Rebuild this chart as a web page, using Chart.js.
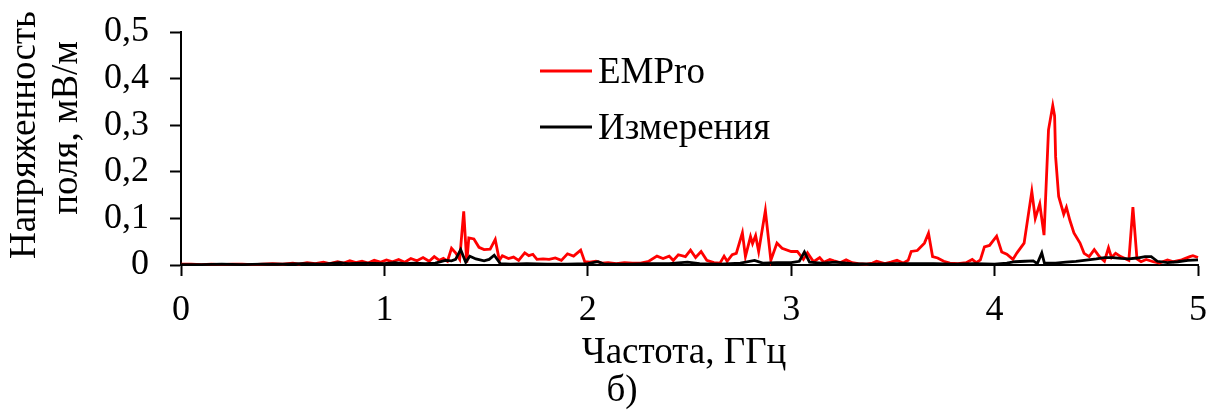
<!DOCTYPE html>
<html>
<head>
<meta charset="utf-8">
<script src="https://cdn.jsdelivr.net/npm/chart.js@4.4.1/dist/chart.umd.min.js"></script>
<style>
  html, body { margin: 0; padding: 0; background: #fff; }
  #wrap { width: 1208px; height: 412px; }
</style>
</head>
<body>
<div id="wrap"><canvas id="chart" width="1208" height="412"></canvas></div>
<script>
// Simulated field strength (EMPro), GHz / mV/m
const emproFreq = [
  0.00, 0.05, 0.10, 0.15, 0.20, 0.25, 0.30, 0.35, 0.40, 0.45, 0.50, 0.55, 0.58, 0.62, 0.66, 0.70, 0.73, 0.77,
  0.80, 0.83, 0.86, 0.89, 0.92, 0.95, 0.98, 1.01, 1.04, 1.07, 1.10, 1.13, 1.16, 1.19, 1.22, 1.245, 1.27, 1.29,
  1.31, 1.33, 1.35, 1.37, 1.39, 1.405, 1.415, 1.44, 1.465, 1.49, 1.52, 1.545, 1.565, 1.58, 1.61, 1.635, 1.66,
  1.69, 1.71, 1.73, 1.75, 1.78, 1.81, 1.84, 1.87, 1.90, 1.93, 1.965, 1.985, 2.01, 2.04, 2.07, 2.10, 2.14, 2.18,
  2.22, 2.26, 2.30, 2.34, 2.37, 2.40, 2.42, 2.445, 2.48, 2.505, 2.53, 2.557, 2.585, 2.62, 2.65, 2.67, 2.685,
  2.71, 2.73, 2.76, 2.775, 2.80, 2.81, 2.825, 2.84, 2.873, 2.90, 2.93, 2.955, 3.00, 3.03, 3.06, 3.08, 3.11,
  3.14, 3.16, 3.19, 3.21, 3.24, 3.27, 3.30, 3.33, 3.37, 3.40, 3.42, 3.46, 3.49, 3.52, 3.55, 3.575, 3.59, 3.62,
  3.655, 3.675, 3.695, 3.72, 3.75, 3.78, 3.82, 3.86, 3.89, 3.91, 3.93, 3.95, 3.975, 4.01, 4.035, 4.06, 4.09,
  4.11, 4.145, 4.183, 4.20, 4.222, 4.243, 4.265, 4.286, 4.295, 4.30, 4.315, 4.34, 4.353, 4.37, 4.39, 4.42,
  4.44, 4.465, 4.49, 4.515, 4.54, 4.56, 4.575, 4.595, 4.62, 4.66, 4.68, 4.70, 4.72, 4.745, 4.78, 4.81, 4.85,
  4.88, 4.92, 4.96, 4.975, 5.00
];
const emproValue = [
  0.002, 0.002, 0.001, 0.002, 0.001, 0.002, 0.002, 0.001, 0.002, 0.003, 0.002, 0.004, 0.002, 0.005, 0.003, 0.006, 0.003, 0.007,
  0.004, 0.009, 0.005, 0.008, 0.004, 0.010, 0.006, 0.011, 0.007, 0.012, 0.006, 0.014, 0.009, 0.016, 0.008, 0.018, 0.010, 0.014,
  0.008, 0.036, 0.026, 0.012, 0.115, 0.005, 0.058, 0.056, 0.038, 0.033, 0.034, 0.055, 0.010, 0.020, 0.014, 0.017, 0.010,
  0.026, 0.020, 0.023, 0.012, 0.013, 0.012, 0.015, 0.010, 0.024, 0.019, 0.032, 0.007, 0.006, 0.008, 0.004, 0.005, 0.003, 0.005,
  0.004, 0.004, 0.008, 0.019, 0.014, 0.019, 0.010, 0.022, 0.018, 0.032, 0.016, 0.029, 0.010, 0.005, 0.004, 0.019, 0.008,
  0.022, 0.025, 0.069, 0.018, 0.061, 0.046, 0.063, 0.029, 0.117, 0.010, 0.047, 0.036, 0.029, 0.029, 0.012, 0.026, 0.007,
  0.016, 0.006, 0.012, 0.009, 0.005, 0.011, 0.005, 0.003, 0.002, 0.004, 0.008, 0.003, 0.006, 0.010, 0.004, 0.010, 0.029, 0.031,
  0.047, 0.068, 0.018, 0.015, 0.008, 0.004, 0.003, 0.005, 0.012, 0.005, 0.011, 0.039, 0.042, 0.062, 0.028, 0.023, 0.012,
  0.026, 0.047, 0.158, 0.100, 0.131, 0.064, 0.290, 0.342, 0.320, 0.232, 0.147, 0.109, 0.124, 0.096, 0.069, 0.047,
  0.025, 0.018, 0.033, 0.018, 0.008, 0.037, 0.016, 0.025, 0.018, 0.010, 0.124, 0.013, 0.007, 0.012, 0.007, 0.004, 0.011,
  0.007, 0.011, 0.018, 0.020, 0.016
];

// Measured field strength, GHz / mV/m
const measFreq = [
  0.00, 0.10, 0.20, 0.30, 0.40, 0.50, 0.60, 0.70, 0.78, 0.82, 0.90, 1.00, 1.05, 1.10, 1.15, 1.20, 1.25, 1.30,
  1.33, 1.35, 1.375, 1.40, 1.42, 1.45, 1.49, 1.515, 1.54, 1.57, 1.62, 1.70, 1.80, 1.90, 2.00, 2.05, 2.08, 2.20,
  2.30, 2.40, 2.49, 2.55, 2.65, 2.75, 2.82, 2.86, 2.93, 3.00, 3.04, 3.065, 3.09, 3.15, 3.22, 3.30, 3.40, 3.50,
  3.60, 3.70, 3.80, 3.90, 4.00, 4.06, 4.10, 4.15, 4.19, 4.21, 4.232, 4.245, 4.30, 4.35, 4.40, 4.44, 4.50, 4.54,
  4.58, 4.62, 4.66, 4.70, 4.74, 4.77, 4.80, 4.85, 4.90, 4.95, 5.00
];
const measValue = [
  0.001, 0.001, 0.002, 0.001, 0.002, 0.002, 0.003, 0.002, 0.005, 0.003, 0.004, 0.003, 0.005, 0.003, 0.004, 0.003, 0.004, 0.010,
  0.009, 0.012, 0.033, 0.006, 0.019, 0.013, 0.009, 0.012, 0.021, 0.003, 0.002, 0.003, 0.002, 0.002, 0.003, 0.007, 0.002, 0.002,
  0.003, 0.003, 0.006, 0.003, 0.002, 0.004, 0.010, 0.004, 0.005, 0.005, 0.008, 0.028, 0.006, 0.004, 0.006, 0.003, 0.002, 0.003,
  0.003, 0.003, 0.002, 0.003, 0.002, 0.004, 0.007, 0.008, 0.009, 0.003, 0.026, 0.004, 0.004, 0.006, 0.008, 0.010, 0.013, 0.016,
  0.016, 0.014, 0.013, 0.015, 0.018, 0.018, 0.008, 0.005, 0.007, 0.010, 0.011
];

const seriesLabels = ['EMPro', 'Измерения'];
const xTickLabels = ['0', '1', '2', '3', '4', '5'];
const yTickLabels = ['0', '0,1', '0,2', '0,3', '0,4', '0,5'];
const xTitle = 'Частота, ГГц';
const yTitle = ['Напряженность', 'поля, мВ/м'];
const caption = 'б)';

const FONT = '"Liberation Serif", "Times New Roman", serif';
const toPoints = (xs, ys) => xs.map((x, i) => ({ x, y: ys[i] }));

// Legend inside the plot and the axis captions
const annotations = {
  id: 'annotations',
  afterDraw(chart) {
    const ctx = chart.ctx;
    ctx.save();
    ctx.fillStyle = '#000';
    ctx.font = `37px ${FONT}`;
    ctx.textBaseline = 'middle';

    // legend
    const rows = [0, 1].map(i => chart.data.datasets.find(d => d.label === seriesLabels[i]));
    rows.forEach((ds, i) => {
      const y = 71 + i * 56;
      ctx.strokeStyle = ds.borderColor;
      ctx.lineWidth = 2.8;
      ctx.beginPath();
      ctx.moveTo(540, y);
      ctx.lineTo(592, y);
      ctx.stroke();
      ctx.textAlign = 'left';
      ctx.fillText(ds.label, 598, y + 2);
    });

    // axis titles
    ctx.textAlign = 'center';
    ctx.fillText(xTitle, 684, 353);
    ctx.fillText(caption, 622, 391);
    ctx.save();
    ctx.translate(25, 135);
    ctx.rotate(-Math.PI / 2);
    ctx.fillText(yTitle[0], 0, 0);
    ctx.restore();
    ctx.save();
    ctx.translate(67, 128);
    ctx.rotate(-Math.PI / 2);
    ctx.fillText(yTitle[1], 0, 0);
    ctx.restore();
    ctx.restore();
  }
};

new Chart(document.getElementById('chart'), {
  type: 'line',
  data: {
    datasets: [
      {
        label: seriesLabels[0],
        data: toPoints(emproFreq, emproValue),
        borderColor: '#ff0000',
        borderWidth: 2.8,
        pointRadius: 0,
        tension: 0,
        clip: false,
        order: 2
      },
      {
        label: seriesLabels[1],
        data: toPoints(measFreq, measValue),
        borderColor: '#000000',
        borderWidth: 2.8,
        pointRadius: 0,
        tension: 0,
        clip: false,
        order: 1
      }
    ]
  },
  options: {
    responsive: false,
    animation: false,
    devicePixelRatio: 1,
    layout: { padding: { top: 32, right: 10, left: 0, bottom: 0 } },
    plugins: {
      legend: { display: false },
      tooltip: { enabled: false },
      title: { display: false }
    },
    scales: {
      x: {
        type: 'linear',
        min: 0,
        max: 5,
        afterFit(scale) {
          scale.height = 147;
          scale.paddingLeft = 0;
          scale.paddingRight = 0;
        },
        border: { color: '#000', width: 2 },
        grid: { drawOnChartArea: false, drawTicks: true, tickLength: 11, tickWidth: 2, tickColor: '#000' },
        ticks: {
          stepSize: 1,
          padding: 13,
          color: '#000',
          font: { family: FONT, size: 36 },
          callback: (v) => xTickLabels[Math.round(v)]
        }
      },
      y: {
        min: 0,
        max: 0.5,
        afterFit(scale) {
          scale.width = 181;
          scale.paddingTop = 0;
          scale.paddingBottom = 0;
        },
        border: { color: '#000', width: 2 },
        grid: { drawOnChartArea: false, drawTicks: true, tickLength: 11, tickWidth: 2, tickColor: '#000' },
        ticks: {
          stepSize: 0.1,
          padding: 21,
          color: '#000',
          font: { family: FONT, size: 36 },
          callback: (v) => yTickLabels[Math.round(v * 10)]
        }
      }
    }
  },
  plugins: [annotations]
});
</script>
</body>
</html>
